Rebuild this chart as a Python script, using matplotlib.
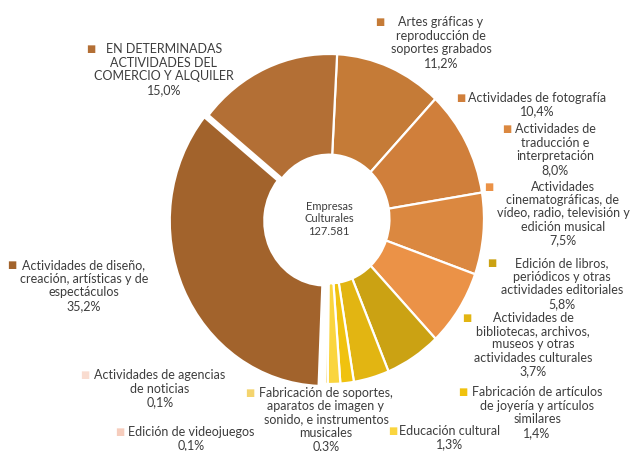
import matplotlib
matplotlib.use("Agg")
import matplotlib.pyplot as plt

# Data: cultural companies by main activity (clockwise from top)
categories = [
    "Artes gráficas y\nreproducción de\nsoportes grabados",
    "Actividades de fotografía",
    "Actividades de\ntraducción e\ninterpretación",
    "Actividades\ncinematográficas, de\nvídeo, radio, televisión y\nedición musical",
    "Edición de libros,\nperiódicos y otras\nactividades editoriales",
    "Actividades de\nbibliotecas, archivos,\nmuseos y otras\nactividades culturales",
    "Fabricación de artículos\nde joyería y artículos\nsimilares",
    "Educación cultural",
    "Fabricación de soportes,\naparatos de imagen y\nsonido, e instrumentos\nmusicales",
    "Edición de videojuegos",
    "Actividades de agencias\nde noticias",
    "Actividades de diseño,\ncreación, artísticas y de\nespectáculos",
    "EN DETERMINADAS\nACTIVIDADES DEL\nCOMERCIO Y ALQUILER",
]
shares = [11.2, 10.4, 8.0, 7.5, 5.8, 3.7, 1.4, 1.3, 0.3, 0.1, 0.1, 35.2, 15.0]
total_empresas = 127581

# Styles
colors = [
    "#C57B37", "#D07F3B", "#DB8840", "#EB9247", "#CBA213", "#E2B512",
    "#F0C20F", "#FAD53F", "#F4D46E", "#F6CDBD", "#F9DCD0", "#A2632C",
    "#B36F35",
]
explode = [0, 0, 0, 0, 0, 0, 0, 0, 0, 0, 0, 0.03, 0]

# label layout in pixels: (marker x, marker y, text center x)
label_pos = [
    (380, 21, 441),
    (461, 97, 537),
    (507, 128, 555),
    (489, 186, 563),
    (492, 262, 562),
    (467, 317, 533),
    (463, 391, 537),
    (393, 430, 450),
    (250, 392, 326),
    (120, 431, 191),
    (85, 374, 160),
    (12, 264, 84),
    (91, 48, 164),
]

W, H = 633, 451
TEXT = "#3d3d3d"
plt.rcParams["font.family"] = ["Lato", "DejaVu Sans"]

fig = plt.figure(figsize=(W / 100, H / 100), dpi=100)

# pie geometry in pixels (slightly taller than wide, as in the source)
cx, cy, rx, ry = 329, 219, 155, 165
L = 1.1
ax = fig.add_axes([(cx - L * rx) / W, 1 - (cy + L * ry) / H,
                   2 * L * rx / W, 2 * L * ry / H])
ax.pie(shares, colors=colors, startangle=87, counterclock=False,
       explode=explode, radius=1,
       wedgeprops=dict(width=0.61, edgecolor="white", linewidth=1.6))
ax.set_aspect("auto")
ax.set_xlim(-L, L)
ax.set_ylim(-L, L)
ax.axis("off")

center_txt = "Empresas\nCulturales\n" + f"{total_empresas:,}".replace(",", ".")
for i, line in enumerate(center_txt.split("\n")):
    fig.text(cx / W, 1 - (205 + i * 12.8) / H, line, ha="center",
             va="center_baseline", fontsize=8.0, color=TEXT)

LINE = 13.6
for name, val, col, (mx, my, tx) in zip(categories, shares, colors, label_pos):
    lines = name.split("\n") + [f"{val:.1f}".replace(".", ",") + "%"]
    step = LINE if len(lines) < 5 else 13.2
    for i, line in enumerate(lines):
        fig.text(tx / W, 1 - (my + i * step) / H, line, ha="center",
                 va="center_baseline", fontsize=9.0, color=TEXT)
    fig.text(mx / W, 1 - my / H, "■", ha="center", va="center_baseline",
             fontsize=7, color=col, family="DejaVu Sans")

fig.savefig("out.png", dpi=100)
